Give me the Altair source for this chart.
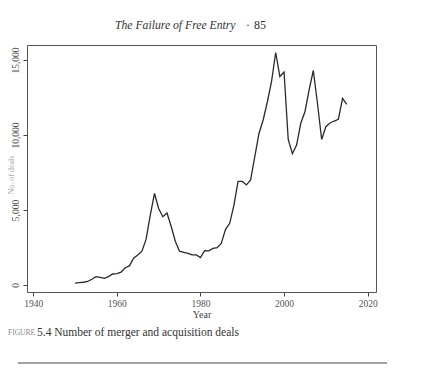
import altair as alt
import pandas as pd

years = list(range(1950, 2016))
deals = [120, 150, 180, 230, 380, 550, 510, 440, 560, 730,
         760, 850, 1150, 1270, 1780, 2000, 2250, 3050, 4650, 6100,
         5100, 4550, 4800, 3900, 2900, 2250, 2180, 2110, 2000, 2000,
         1830, 2290, 2270, 2440, 2490, 2780, 3710, 4110, 5300, 6900,
         6900, 6670, 7000, 8550, 10100, 11000, 12200, 13550, 15500, 13900,
         14200, 9700, 8750, 9330, 10780, 11550, 13000, 14300, 12100, 9700,
         10550, 10800, 10930, 11050, 12440, 12040]

x_ticks = [1940, 1960, 1980, 2000, 2020]
y_ticks = [0, 5000, 10000, 15000]

header = "The Failure of Free Entry"
page_no = "85"
caption_label = "FIGURE"
caption_text = "5.4  Number of merger and acquisition deals"
x_title = "Year"
y_title = "No. of deals"

SERIF = "Liberation Serif"

df = pd.DataFrame({"year": years, "deals": deals})
one = pd.DataFrame({"k": [0]})

line = alt.Chart(df).mark_line(color="#2a2a2a", strokeWidth=1.3).encode(
    x=alt.X("year:Q",
            scale=alt.Scale(domain=[1938.5, 2022], nice=False, zero=False),
            axis=alt.Axis(values=x_ticks, format="d", grid=False, domain=False,
                          tickSize=4, tickColor="#444", labelColor="#555",
                          labelFont=SERIF, labelFontSize=9.5, labelPadding=2,
                          title=x_title, titleFont=SERIF, titleFontSize=10,
                          titleFontWeight="normal", titleColor="#444",
                          titlePadding=2)),
    y=alt.Y("deals:Q",
            scale=alt.Scale(domain=[-470, 16000], nice=False, zero=False),
            axis=alt.Axis(values=y_ticks, format=",.0f", grid=False, domain=False,
                          tickSize=4, tickColor="#444", labelColor="#555",
                          labelFont=SERIF, labelFontSize=9.5, labelAngle=270,
                          labelAlign="center", labelBaseline="bottom",
                          labelPadding=3, title=None)),
)

def txt(text, x, y, **kw):
    return alt.Chart(one).mark_text(**kw).encode(
        x=alt.value(x), y=alt.value(y), text=alt.value(text))

ytitle = txt(y_title, -15, 130, font=SERIF, fontSize=8, color="#aaa", angle=270)
head = txt(header, 88, -20, font=SERIF, fontStyle="italic", fontSize=11.7,
           color="#333", align="left")
dot = txt("·", 221, -20, font=SERIF, fontSize=12, color="#333")
page = txt(page_no, 233, -20, font=SERIF, fontSize=12, color="#333")
cap1 = txt(caption_label, -19, 288, font=SERIF, fontSize=7.5, color="#888",
           align="left")
cap2 = txt(caption_text, 10, 288, font=SERIF, fontSize=11.5, color="#333",
           align="left")
rule = alt.Chart(one).mark_rule(color="#444", strokeWidth=1).encode(
    x=alt.value(-9), x2=alt.value(360), y=alt.value(318))

chart = alt.layer(line, ytitle, head, dot, page, cap1, cap2, rule).properties(
    width=349, height=247,
    autosize=alt.AutoSizeParams(type="none"),
    padding={"left": 19, "top": 37, "right": 40, "bottom": 72},
    background="white",
).configure_view(stroke="#555", strokeWidth=1)

chart.save("out.html", embed_options={"renderer": "svg", "actions": False})
